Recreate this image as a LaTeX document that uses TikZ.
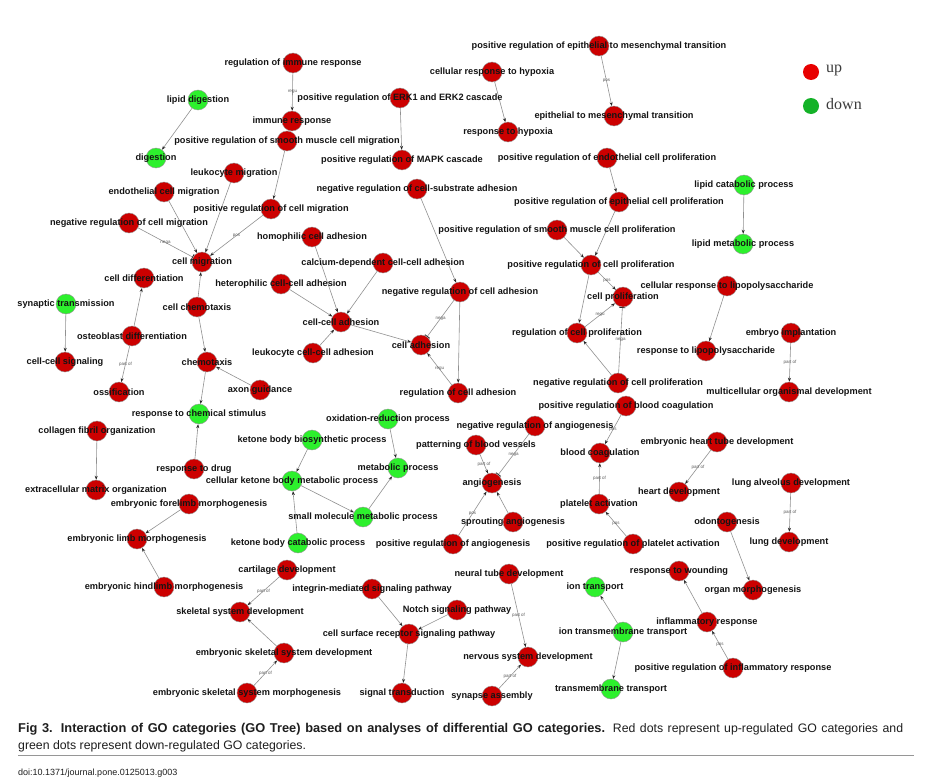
\documentclass[tikz,border=0pt]{standalone}
\usepackage{fontspec}
\setmainfont{Liberation Sans}
\newfontfamily\legfont{Liberation Serif}
\usetikzlibrary{arrows.meta}
\definecolor{upred}{RGB}{204,0,0}
\definecolor{downgreen}{RGB}{45,240,45}
\definecolor{circborder}{RGB}{150,150,150}
\definecolor{edgegray}{RGB}{145,145,145}
\definecolor{tipgray}{RGB}{40,40,40}
\definecolor{lbltext}{RGB}{20,20,20}
\definecolor{elblgray}{RGB}{90,90,90}
\definecolor{legred}{RGB}{232,0,0}
\definecolor{leggreen}{RGB}{20,178,40}
\definecolor{legtext}{RGB}{60,60,60}
\definecolor{captext}{RGB}{30,30,30}
\definecolor{rulegray}{RGB}{150,150,150}
\pgfdeclarelayer{bg}
\pgfdeclarelayer{fg}
\pgfsetlayers{bg,main,fg}
\newcommand\gn[5]{%
  \node[#4] (#1) at (#2,#3) {};
  \begin{pgfonlayer}{fg}\node[lbl] (#1-l) at (#1) {#5};\end{pgfonlayer}}
\begin{document}
\begin{tikzpicture}[x=1pt,y=-1pt,
  gocirc/.style={circle, minimum size=20pt, inner sep=0pt, draw=circborder, line width=0.4pt},
  up/.style={gocirc, fill=upred},
  down/.style={gocirc, fill=downgreen},
  lbl/.style={font=\fontsize{9.2}{10}\selectfont\bfseries, text=lbltext, inner sep=0pt},
  edge/.style={draw=edgegray, line width=0.6pt, -{Stealth[length=4pt,width=3pt,color=tipgray]}},
  negedge/.style={draw=edgegray, line width=0.6pt, -{Bar[width=6pt,line width=0.8pt,color=tipgray]}},
  elbl/.style={font=\fontsize{4.5}{5}\selectfont, text=elblgray, inner sep=1pt}
]
\begin{pgfonlayer}{bg}
\fill[white] (0,0) rectangle (942,784);
\end{pgfonlayer}
\useasboundingbox (0,0) rectangle (942,784);
% nodes
\gn{rir}{293}{63}{up}{regulation of immune response}
\gn{ir}{292}{121}{up}{immune response}
\gn{prsmcm}{287}{141}{up}{positive regulation of smooth muscle cell migration}
\gn{ld}{198}{100}{down}{lipid digestion}
\gn{dig}{156}{158}{down}{digestion}
\gn{lm}{234}{173}{up}{leukocyte migration}
\gn{ecm}{164}{192}{up}{endothelial cell migration}
\gn{nrcm}{129}{223}{up}{negative regulation of cell migration}
\gn{prcm}{271}{209}{up}{positive regulation of cell migration}
\gn{cm}{202}{262}{up}{cell migration}
\gn{hca}{312}{237}{up}{homophilic cell adhesion}
\gn{cd}{144}{278}{up}{cell differentiation}
\gn{st}{66}{304}{down}{synaptic transmission}
\gn{cc}{197}{307}{up}{cell chemotaxis}
\gn{hcca}{281}{284}{up}{heterophilic cell-cell adhesion}
\gn{od}{132}{336}{up}{osteoblast differentiation}
\gn{ccs}{65}{362}{up}{cell-cell signaling}
\gn{chem}{207}{362}{up}{chemotaxis}
\gn{lcca}{313}{353}{up}{leukocyte cell-cell adhesion}
\gn{cdcca}{383}{263}{up}{calcium-dependent cell-cell adhesion}
\gn{cca}{341}{322}{up}{cell-cell adhesion}
\gn{ca}{421}{345}{up}{cell adhesion}
\gn{nrca}{460}{292}{up}{negative regulation of cell adhesion}
\gn{nrcsa}{417}{189}{up}{negative regulation of cell-substrate adhesion}
\gn{prerk}{400}{98}{up}{positive regulation of ERK1 and ERK2 cascade}
\gn{prmapk}{402}{160}{up}{positive regulation of MAPK cascade}
\gn{crh}{492}{72}{up}{cellular response to hypoxia}
\gn{rh}{508}{132}{up}{response to hypoxia}
\gn{premt}{599}{46}{up}{positive regulation of epithelial to mesenchymal transition}
\gn{emt}{614}{116}{up}{epithelial to mesenchymal transition}
\gn{precp}{607}{158}{up}{positive regulation of endothelial cell proliferation}
\gn{prepcp}{619}{202}{up}{positive regulation of epithelial cell proliferation}
\gn{prsmcp}{557}{230}{up}{positive regulation of smooth muscle cell proliferation}
\gn{prcp}{591}{265}{up}{positive regulation of cell proliferation}
\gn{cp}{623}{297}{up}{cell proliferation}
\gn{rcp}{577}{333}{up}{regulation of cell proliferation}
\gn{lcp}{744}{185}{down}{lipid catabolic process}
\gn{lmp}{743}{244}{down}{lipid metabolic process}
\gn{crl}{727}{286}{up}{cellular response to lipopolysaccharide}
\gn{rl}{706}{351}{up}{response to lipopolysaccharide}
\gn{ei}{791}{333}{up}{embryo implantation}
\gn{mod}{789}{392}{up}{multicellular organismal development}
\gn{nrcp}{618}{383}{up}{negative regulation of cell proliferation}
\gn{prbc}{626}{406}{up}{positive regulation of blood coagulation}
\gn{bc}{600}{453}{up}{blood coagulation}
\gn{ehtd}{717}{442}{up}{embryonic heart tube development}
\gn{hd}{679}{492}{up}{heart development}
\gn{lad}{791}{483}{up}{lung alveolus development}
\gn{lungd}{789}{542}{up}{lung development}
\gn{odon}{727}{522}{up}{odontogenesis}
\gn{pa}{599}{504}{up}{platelet activation}
\gn{prpa}{633}{544}{up}{positive regulation of platelet activation}
\gn{om}{753}{590}{up}{organ morphogenesis}
\gn{rw}{679}{571}{up}{response to wounding}
\gn{infr}{707}{622}{up}{inflammatory response}
\gn{prir}{733}{668}{up}{positive regulation of inflammatory response}
\gn{it}{595}{587}{down}{ion transport}
\gn{itt}{623}{632}{down}{ion transmembrane transport}
\gn{tt}{611}{689}{down}{transmembrane transport}
\gn{rca}{458}{393}{up}{regulation of cell adhesion}
\gn{orp}{388}{419}{down}{oxidation-reduction process}
\gn{mp}{398}{468}{down}{metabolic process}
\gn{kbbp}{312}{440}{down}{ketone body biosynthetic process}
\gn{ckbmp}{292}{481}{down}{cellular ketone body metabolic process}
\gn{smmp}{363}{517}{down}{small molecule metabolic process}
\gn{kbcp}{298}{543}{down}{ketone body catabolic process}
\gn{nra}{535}{426}{up}{negative regulation of angiogenesis}
\gn{pbv}{476}{445}{up}{patterning of blood vessels}
\gn{ang}{492}{483}{up}{angiogenesis}
\gn{sa}{513}{522}{up}{sprouting angiogenesis}
\gn{pra}{453}{544}{up}{positive regulation of angiogenesis}
\gn{ag}{260}{390}{up}{axon guidance}
\gn{rcs}{199}{414}{down}{response to chemical stimulus}
\gn{oss}{119}{392}{up}{ossification}
\gn{cfo}{97}{431}{up}{collagen fibril organization}
\gn{emo}{96}{490}{up}{extracellular matrix organization}
\gn{rd}{194}{469}{up}{response to drug}
\gn{efm}{189}{504}{up}{embryonic forelimb morphogenesis}
\gn{elm}{137}{539}{up}{embryonic limb morphogenesis}
\gn{ehm}{164}{587}{up}{embryonic hindlimb morphogenesis}
\gn{cartd}{287}{570}{up}{cartilage development}
\gn{ssd}{240}{612}{up}{skeletal system development}
\gn{essd}{284}{653}{up}{embryonic skeletal system development}
\gn{essm}{247}{693}{up}{embryonic skeletal system morphogenesis}
\gn{imsp}{372}{589}{up}{integrin-mediated signaling pathway}
\gn{nsp}{457}{610}{up}{Notch signaling pathway}
\gn{csrsp}{409}{634}{up}{cell surface receptor signaling pathway}
\gn{sigt}{402}{693}{up}{signal transduction}
\gn{ntd}{509}{574}{up}{neural tube development}
\gn{nsd}{528}{657}{up}{nervous system development}
\gn{sas}{492}{696}{up}{synapse assembly}
% edges
\begin{pgfonlayer}{bg}
\draw[edge] (rir) -- node[elbl]{regu} (ir);
\draw[edge] (ld) -- (dig);
\draw[edge] (prsmcm) -- (prcm);
\draw[edge] (lm) -- (cm);
\draw[edge] (ecm) -- (cm);
\draw[negedge] (nrcm) -- node[elbl]{nega} (cm);
\draw[edge] (prcm) -- node[elbl]{pos} (cm);
\draw[edge] (cc) -- (cm);
\draw[edge] (cc) -- (chem);
\draw[edge] (od) -- (cd);
\draw[edge] (od) -- node[elbl]{part of} (oss);
\draw[edge] (st) -- (ccs);
\draw[edge] (ag) -- (chem);
\draw[edge] (chem) -- (rcs);
\draw[edge] (rd) -- (rcs);
\draw[edge] (cfo) -- (emo);
\draw[edge] (efm) -- (elm);
\draw[edge] (ehm) -- (elm);
\draw[edge] (cartd) -- node[elbl]{part of} (ssd);
\draw[edge] (essd) -- (ssd);
\draw[edge] (essm) -- node[elbl]{part of} (essd);
\draw[edge] (hca) -- (cca);
\draw[edge] (cdcca) -- (cca);
\draw[edge] (hcca) -- (cca);
\draw[edge] (lcca) -- (cca);
\draw[edge] (cca) -- (ca);
\draw[edge] (nrcsa) -- (nrca);
\draw[negedge] (nrca) -- node[elbl]{nega} (ca);
\draw[edge] (nrca) -- (rca);
\draw[edge] (rca) -- node[elbl]{regu} (ca);
\draw[edge] (prerk) -- (prmapk);
\draw[edge] (crh) -- (rh);
\draw[edge] (premt) -- node[elbl]{pos} (emt);
\draw[edge] (precp) -- (prepcp);
\draw[edge] (prepcp) -- (prcp);
\draw[edge] (prsmcp) -- (prcp);
\draw[edge] (prcp) -- node[elbl]{pos} (cp);
\draw[edge] (prcp) -- (rcp);
\draw[edge] (rcp) -- node[elbl]{regu} (cp);
\draw[negedge] (nrcp) -- node[elbl]{nega} (cp);
\draw[edge] (nrcp) -- (rcp);
\draw[edge] (lcp) -- (lmp);
\draw[edge] (crl) -- (rl);
\draw[edge] (ei) -- node[elbl]{part of} (mod);
\draw[edge] (prbc) -- node[elbl]{pos} (bc);
\draw[edge] (pa) -- node[elbl]{part of} (bc);
\draw[edge] (prpa) -- node[elbl]{pos} (pa);
\draw[edge] (ehtd) -- node[elbl]{part of} (hd);
\draw[edge] (lad) -- node[elbl]{part of} (lungd);
\draw[edge] (odon) -- (om);
\draw[edge] (infr) -- (rw);
\draw[edge] (prir) -- node[elbl]{pos} (infr);
\draw[edge] (itt) -- (it);
\draw[edge] (itt) -- (tt);
\draw[edge] (orp) -- (mp);
\draw[edge] (smmp) -- (mp);
\draw[edge] (kbbp) -- (ckbmp);
\draw[edge] (ckbmp) -- (smmp);
\draw[edge] (kbcp) -- (ckbmp);
\draw[negedge] (nra) -- node[elbl]{nega} (ang);
\draw[edge] (pbv) -- node[elbl]{part of} (ang);
\draw[edge] (sa) -- (ang);
\draw[edge] (pra) -- node[elbl]{pos} (ang);
\draw[edge] (imsp) -- (csrsp);
\draw[edge] (nsp) -- (csrsp);
\draw[edge] (csrsp) -- (sigt);
\draw[edge] (ntd) -- node[elbl]{part of} (nsd);
\draw[edge] (sas) -- node[elbl]{part of} (nsd);
\end{pgfonlayer}
% legend
\node[circle, minimum size=16pt, inner sep=0pt, fill=legred] (legup) at (811,72) {};
\node[circle, minimum size=16pt, inner sep=0pt, fill=leggreen] (legdown) at (811,106) {};
\node[anchor=west, inner sep=0pt, font=\legfont\fontsize{16}{16}\selectfont, text=legtext] (legupt) at (826,70) {up};
\node[anchor=west, inner sep=0pt, font=\legfont\fontsize{16}{16}\selectfont, text=legtext] (legdownt) at (826,104) {down};
% caption
\node[anchor=base west, inner sep=0pt, font=\fontsize{12.3}{13}\selectfont, text=captext] (cap1) at (18,732) {\makebox[885pt][s]{{\fontsize{12.8}{13}\selectfont\bfseries Fig 3. Interaction of GO categories (GO Tree) based on analyses of differential GO categories.} Red dots represent up-regulated GO categories and}};
\node[anchor=base west, inner sep=0pt, font=\fontsize{12.3}{13}\selectfont, text=captext] (cap2) at (18,749) {green dots represent down-regulated GO categories.};
\draw[rulegray, line width=1pt] (18,755) -- (914,755);
\node[anchor=base west, inner sep=0pt, font=\fontsize{9}{10}\selectfont, text=captext] (doi) at (18,775) {doi:10.1371/journal.pone.0125013.g003};
\end{tikzpicture}
\end{document}
